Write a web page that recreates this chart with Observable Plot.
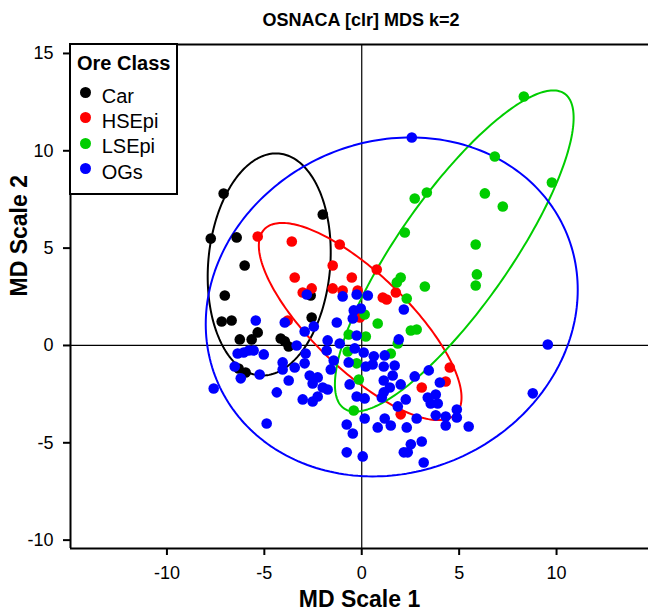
<!DOCTYPE html>
<html><head><meta charset="utf-8">
<script src="https://cdn.jsdelivr.net/npm/d3@7"></script>
<script src="https://cdn.jsdelivr.net/npm/@observablehq/plot@0.6"></script>
<style>
body{margin:0;background:#fff;font-family:"Liberation Sans",Arial,Helvetica,sans-serif;}
#wrap{position:relative;width:648px;height:614px;overflow:hidden;background:#fff;}
#title{position:absolute;left:70px;width:582px;top:11px;text-align:center;font-weight:bold;font-size:18px;line-height:18px;white-space:nowrap;}
#chart{position:absolute;left:0;top:36px;}
#legend{position:absolute;left:69px;top:43px;width:109px;height:152px;border:2px solid #000;box-sizing:border-box;background:#fff;}
#legend .lt{position:absolute;left:6px;top:8px;font-weight:bold;font-size:20px;line-height:20px;white-space:nowrap;}
#legend .dot{position:absolute;width:11px;height:11px;border-radius:50%;}
#legend .txt{position:absolute;font-size:20px;line-height:20px;white-space:nowrap;}
</style>
</head><body>
<div id="wrap">
  <div id="title">OSNACA [clr] MDS k=2</div>
  <div id="chart"></div>
  <div id="legend"></div>
</div>
<script>
const classes = ["Car", "HSEpi", "LSEpi", "OGs"];
const classColors = ["#000000", "#FF0000", "#00CD00", "#0000FF"];
const legendTitle = "Ore Class";
const chartTitle = "OSNACA [clr] MDS k=2";
const xLabel = "MD Scale 1";
const yLabel = "MD Scale 2";
const xTicks = [-10, -5, 0, 5, 10];
const yTicks = [-10, -5, 0, 5, 10, 15];
const xDomain = [-14.95, 14.72];
const yDomain = [-10.43, 15.46];

const carX = [-7.09,-2.00,-7.75,-6.42,-6.01,-7.03,-7.19,-6.68,-2.62,-2.57,-6.26,-5.65,-5.34,-4.16,-3.95,-3.75,-6.32,-5.96];
const carY = [7.80,6.73,5.49,5.55,4.11,2.57,1.23,1.28,2.57,1.44,0.31,0.31,0.67,0.36,0.21,-0.05,-1.18,-1.39];

const hseX = [-5.34,-3.59,-1.13,-1.49,-3.44,-0.51,-2.57,-3.03,-1.49,-0.98,0.77,1.75,1.08,1.28,-0.21,-0.10,4.52,4.31,3.08,2.00,-3.80];
const hseY = [5.60,5.34,5.19,4.11,3.49,3.49,2.93,2.72,2.93,2.82,3.90,2.72,2.46,2.36,2.82,1.44,-1.13,-1.85,-2.16,-3.54,1.28];

const lseX = [8.32,6.83,9.76,3.34,2.72,6.32,7.24,2.21,5.85,5.91,5.85,2.00,1.80,3.24,2.31,0.15,0.82,2.52,2.82,-0.67,0.21,1.49,1.85,-0.26,-0.15,-0.41,-0.72];
const lseY = [12.79,9.71,8.37,7.86,7.55,7.81,7.14,5.80,5.19,3.65,3.08,3.49,3.24,3.03,2.41,1.59,1.13,0.77,0.82,0.56,0.46,-0.41,0.10,-0.92,-1.75,-3.34,-0.31];

const ogsX = [2.57,9.55,8.78,5.49,-7.60,-4.88,-5.44,-3.95,-2.93,-2.46,-1.28,-1.75,-1.80,-1.13,-3.34,-6.37,-6.06,-5.80,-5.55,-5.03,-6.52,-6.21,-5.24,-4.06,-4.06,-3.44,-2.93,-2.88,-3.75,-2.67,-2.26,-2.52,-2.00,-1.75,-1.59,-1.44,-4.36,-3.03,-2.52,-2.26,-0.77,-0.46,-0.77,-2.82,-0.98,-0.26,0.31,-0.05,-0.41,-0.46,2.16,-0.26,1.90,-0.36,0.10,-0.67,0.62,1.18,0.21,0.56,1.13,1.69,-0.62,1.13,1.59,2.00,1.44,1.13,1.03,2.26,1.85,2.72,3.44,4.01,3.39,3.80,3.54,3.90,2.82,3.80,4.31,4.31,4.88,4.88,-0.26,0.15,0.15,0.82,1.18,1.49,2.31,2.52,3.08,2.16,2.36,3.18,0.05];
const ogsY = [10.68,0.05,-2.46,-4.16,-2.21,-4.01,1.28,1.18,0.72,0.98,1.18,0.26,-0.26,0.10,0,-0.41,-0.36,-0.26,-0.26,-0.46,-1.08,-1.69,-1.49,-0.87,-1.23,-1.13,-0.92,-0.41,-1.80,-1.54,-1.64,-1.95,-2.16,-2.26,-1.23,-0.77,-2.41,-2.77,-2.88,-2.62,-4.06,-4.52,-5.49,2.62,2.52,2.62,2.57,1.90,1.80,1.39,1.85,0.51,0.31,-0.15,-0.36,-0.87,-0.56,-0.51,-1.08,-0.98,-1.08,-1.03,-2.00,-1.80,-1.54,-2.00,-2.16,-2.41,-2.67,-2.77,-3.13,-1.59,-1.28,-1.90,-2.67,-2.52,-2.98,-2.98,-3.75,-3.59,-3.65,-4.11,-3.29,-3.70,-2.62,-2.72,-3.75,-4.21,-3.75,-4.11,-4.21,-5.08,-4.93,-5.49,-5.49,-6.01,-5.70];

// Ellipse parameters per class (centre, semi-axes, rotation in degrees)
const ellipseCx = [-4.75, -0.08, 4.75, 1.54];
const ellipseCy = [4.16, 1.23, 4.85, 1.98];
const ellipseA = [5.72, 6.83, 9.87, 9.74];
const ellipseB = [3.13, 2.46, 2.86, 8.49];
const ellipseAngle = [85, -44, 55, 23.8];

const seriesX = [carX, hseX, lseX, ogsX];
const seriesY = [carY, hseY, lseY, ogsY];

const points = [];
classes.forEach((c, i) => {
  seriesX[i].forEach((x, j) => points.push({x, y: seriesY[i][j], cls: c}));
});

const ellipsePts = [];
const N = 240;
classes.forEach((c, i) => {
  const th = ellipseAngle[i] * Math.PI / 180;
  for (let k = 0; k <= N; k++) {
    const t = 2 * Math.PI * k / N;
    const u = ellipseA[i] * Math.cos(t), v = ellipseB[i] * Math.sin(t);
    ellipsePts.push({
      x: ellipseCx[i] + u * Math.cos(th) - v * Math.sin(th),
      y: ellipseCy[i] + u * Math.sin(th) + v * Math.cos(th),
      cls: c
    });
  }
});

document.getElementById("title").textContent = chartTitle;

const fontFamily = '"Liberation Sans", Arial, Helvetica, sans-serif';
const chart = Plot.plot({
  width: 648,
  height: 578,
  marginTop: 8,
  marginBottom: 66,
  marginLeft: 70,
  marginRight: 0,
  x: {domain: xDomain},
  y: {domain: yDomain},
  color: {domain: classes, range: classColors},
  style: {fontFamily, fontSize: "18px", background: "white", overflow: "visible", color: "black"},
  marks: [
    Plot.ruleX([0], {stroke: "black", strokeWidth: 1.2}),
    Plot.ruleY([0], {stroke: "black", strokeWidth: 1.2}),
    Plot.line(ellipsePts, {x: "x", y: "y", z: "cls", stroke: "cls", strokeWidth: 2, curve: "linear"}),
    Plot.dot(points, {x: "x", y: "y", fill: "cls", r: 5.3}),
    Plot.ruleX([xDomain[0]], {stroke: "black", strokeWidth: 2}),
    Plot.ruleY([yDomain[0], yDomain[1]], {stroke: "black", strokeWidth: 2}),
    Plot.axisX(xTicks, {tickSize: 7, tickPadding: 11, strokeWidth: 2, label: null, tickFormat: d => String(d)}),
    Plot.axisY(yTicks, {tickSize: 7, tickPadding: 10, strokeWidth: 2, label: null, tickFormat: d => String(d)}),
    Plot.text([xLabel], {text: d => d, frameAnchor: "bottom", dy: 58, fontSize: 23, fontWeight: "bold"}),
    Plot.text([yLabel], {text: d => d, frameAnchor: "left", dx: -51, rotate: -90, fontSize: 23, fontWeight: "bold"})
  ]
});
document.getElementById("chart").appendChild(chart);

// Legend
const legend = document.getElementById("legend");
const lt = document.createElement("div");
lt.className = "lt";
lt.textContent = legendTitle;
legend.appendChild(lt);
classes.forEach((c, i) => {
  const cy = 92.5 + 25.3 * i; // page coordinate of item centre
  const d = document.createElement("div");
  d.className = "dot";
  d.style.background = classColors[i];
  d.style.left = (85 - 5.5 - 71) + "px";
  d.style.top = (cy - 5.5 - 45) + "px";
  legend.appendChild(d);
  const t = document.createElement("div");
  t.className = "txt";
  t.textContent = c;
  t.style.left = (101.7 - 71) + "px";
  t.style.top = (cy - 51.7) + "px";
  legend.appendChild(t);
});
</script>
</body></html>
